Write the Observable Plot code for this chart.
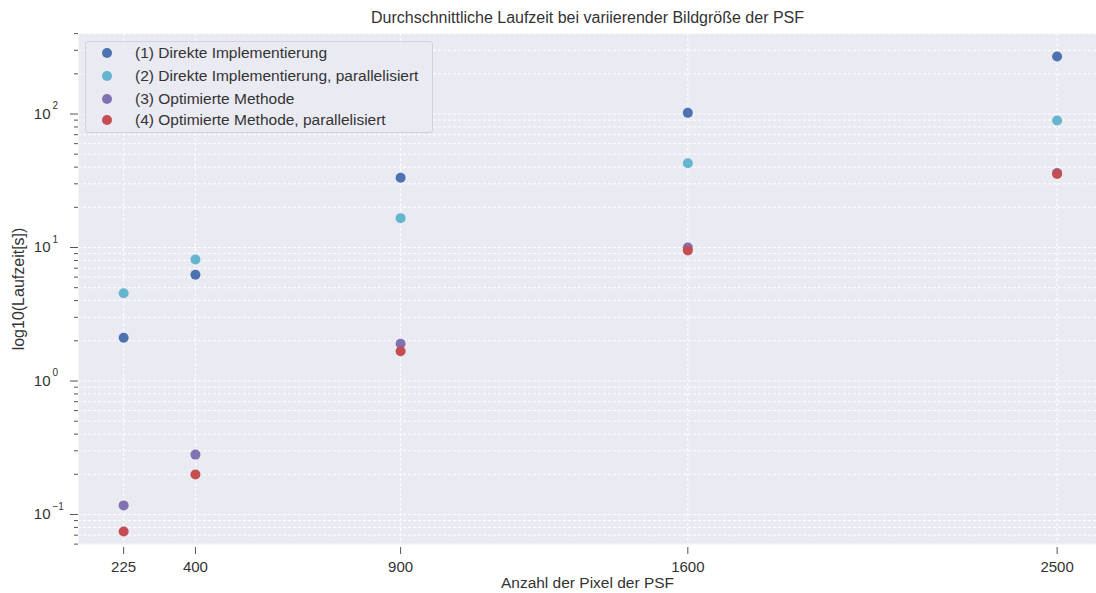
<!DOCTYPE html>
<html>
<head>
<meta charset="utf-8">
<script src="https://cdn.jsdelivr.net/npm/d3@7"></script>
<script src="https://cdn.jsdelivr.net/npm/@observablehq/plot@0.6"></script>
<style>
  html, body { margin: 0; padding: 0; background: white; }
  #wrap { position: relative; width: 1096px; height: 593px; font-family: "Liberation Sans", Arial, sans-serif; }
  #legend { position: absolute; left: 85px; top: 41px; width: 348px; height: 92px; box-sizing: border-box;
            border: 1px solid #d2d2da; border-radius: 3px; background: rgba(234,234,242,0.9); }
  .row { position: absolute; left: 0; height: 20px; font-size: 15.5px; color: #333; }
  .sw { position: absolute; left: 16px; top: 5px; width: 10px; height: 10px; border-radius: 50%; }
  .lab { position: absolute; left: 49px; top: 1px; white-space: nowrap; line-height: 18px; }
</style>
</head>
<body>
<div id="wrap"><div id="legend"></div></div>
<script>
// ---- data ----
const pixels = [225, 400, 900, 1600, 2500];
const seriesNames = [
  "(1) Direkte Implementierung",
  "(2) Direkte Implementierung, parallelisiert",
  "(3) Optimierte Methode",
  "(4) Optimierte Methode, parallelisiert"
];
const direkt = [2.11, 6.25, 33.3, 102, 270];
const direktParallel = [4.55, 8.13, 16.6, 42.8, 89.4];
const optimiert = [0.117, 0.281, 1.90, 10.0, 36.1];
const optimiertParallel = [0.0746, 0.1995, 1.67, 9.5, 35.6];
const colors = ["#4c72b0", "#64b5cd", "#8172b2", "#c44e52"];
const xTicks = [225, 400, 900, 1600, 2500];
const yMajor = [0.1, 1, 10, 100];
const yExponents = ["−1", "0", "1", "2"];
const titleText = "Durchschnittliche Laufzeit bei variierender Bildgröße der PSF";
const xLabel = "Anzahl der Pixel der PSF";
const yLabel = "log10(Laufzeit[s])";

const allSeries = [direkt, direktParallel, optimiert, optimiertParallel];
const data = [];
allSeries.forEach((vals, i) => vals.forEach((v, j) => data.push({x: pixels[j], y: v, series: seriesNames[i]})));

const yDomain = [0.0596, 401];
const yMinor = [];
for (let k = -2; k <= 2; k++) for (let m = 2; m <= 9; m++) {
  const v = m * Math.pow(10, k);
  if (v >= yDomain[0] && v <= yDomain[1]) yMinor.push(v);
}
const yAll = yMajor.concat(yMinor);

const chart = Plot.plot({
  width: 1096,
  height: 593,
  marginLeft: 78,
  marginRight: 0,
  marginTop: 33,
  marginBottom: 49,
  style: {fontFamily: "'Liberation Sans', Arial, sans-serif", color: "#333", background: "white", overflow: "visible"},
  x: {domain: [115, 2596]},
  y: {type: "log", domain: yDomain},
  color: {domain: seriesNames, range: colors},
  marks: [
    Plot.frame({fill: "#eaeaf2", stroke: "none"}),
    Plot.gridY(yAll, {stroke: "white", strokeOpacity: 1, strokeWidth: 1, strokeDasharray: "3,2"}),
    Plot.gridX(xTicks, {stroke: "white", strokeOpacity: 1, strokeWidth: 1, strokeDasharray: "3,2"}),
    Plot.axisY(yMinor, {tickSize: 4, tickFormat: () => "", label: null, stroke: "#555"}),
    Plot.axisY(yMajor, {tickSize: 8, tickFormat: () => "", label: null, stroke: "#555"}),
    Plot.text(yMajor, {y: d => d, text: () => "10", frameAnchor: "left", dx: -28, textAnchor: "end", lineAnchor: "middle", fontSize: 15, fill: "#333"}),
    Plot.text(yMajor, {y: d => d, text: (d, i) => yExponents[i], frameAnchor: "left", dx: -26, dy: -8, textAnchor: "start", lineAnchor: "middle", fontSize: 10, fill: "#333"}),
    Plot.axisX(xTicks, {tickSize: 7, dy: 3, tickPadding: 7, fontSize: 15, tickFormat: d => String(d), label: null, stroke: "#555", fill: "#333"}),
    Plot.dot(data, {x: "x", y: "y", fill: "series", r: 5, stroke: "none"}),
    Plot.text([titleText], {text: d => d, frameAnchor: "top", dy: -16, lineAnchor: "middle", textAnchor: "middle", fontSize: 16, fill: "#333"}),
    Plot.text([xLabel], {text: d => d, frameAnchor: "bottom", dy: 39, lineAnchor: "middle", textAnchor: "middle", fontSize: 15.5, fill: "#333"}),
    Plot.text([yLabel], {text: d => d, frameAnchor: "left", dx: -60, rotate: -90, lineAnchor: "middle", textAnchor: "middle", fontSize: 16, fill: "#333"})
  ]
});
document.getElementById("wrap").insertBefore(chart, document.getElementById("legend"));

// legend
const legend = document.getElementById("legend");
const rowTops = [0.7, 24.3, 46.7, 68.3];
seriesNames.forEach((name, i) => {
  const row = document.createElement("div");
  row.className = "row";
  row.style.top = rowTops[i] + "px";
  const sw = document.createElement("div");
  sw.className = "sw";
  sw.style.background = colors[i];
  const lab = document.createElement("div");
  lab.className = "lab";
  lab.textContent = name;
  row.appendChild(sw);
  row.appendChild(lab);
  legend.appendChild(row);
});
</script>
</body>
</html>
